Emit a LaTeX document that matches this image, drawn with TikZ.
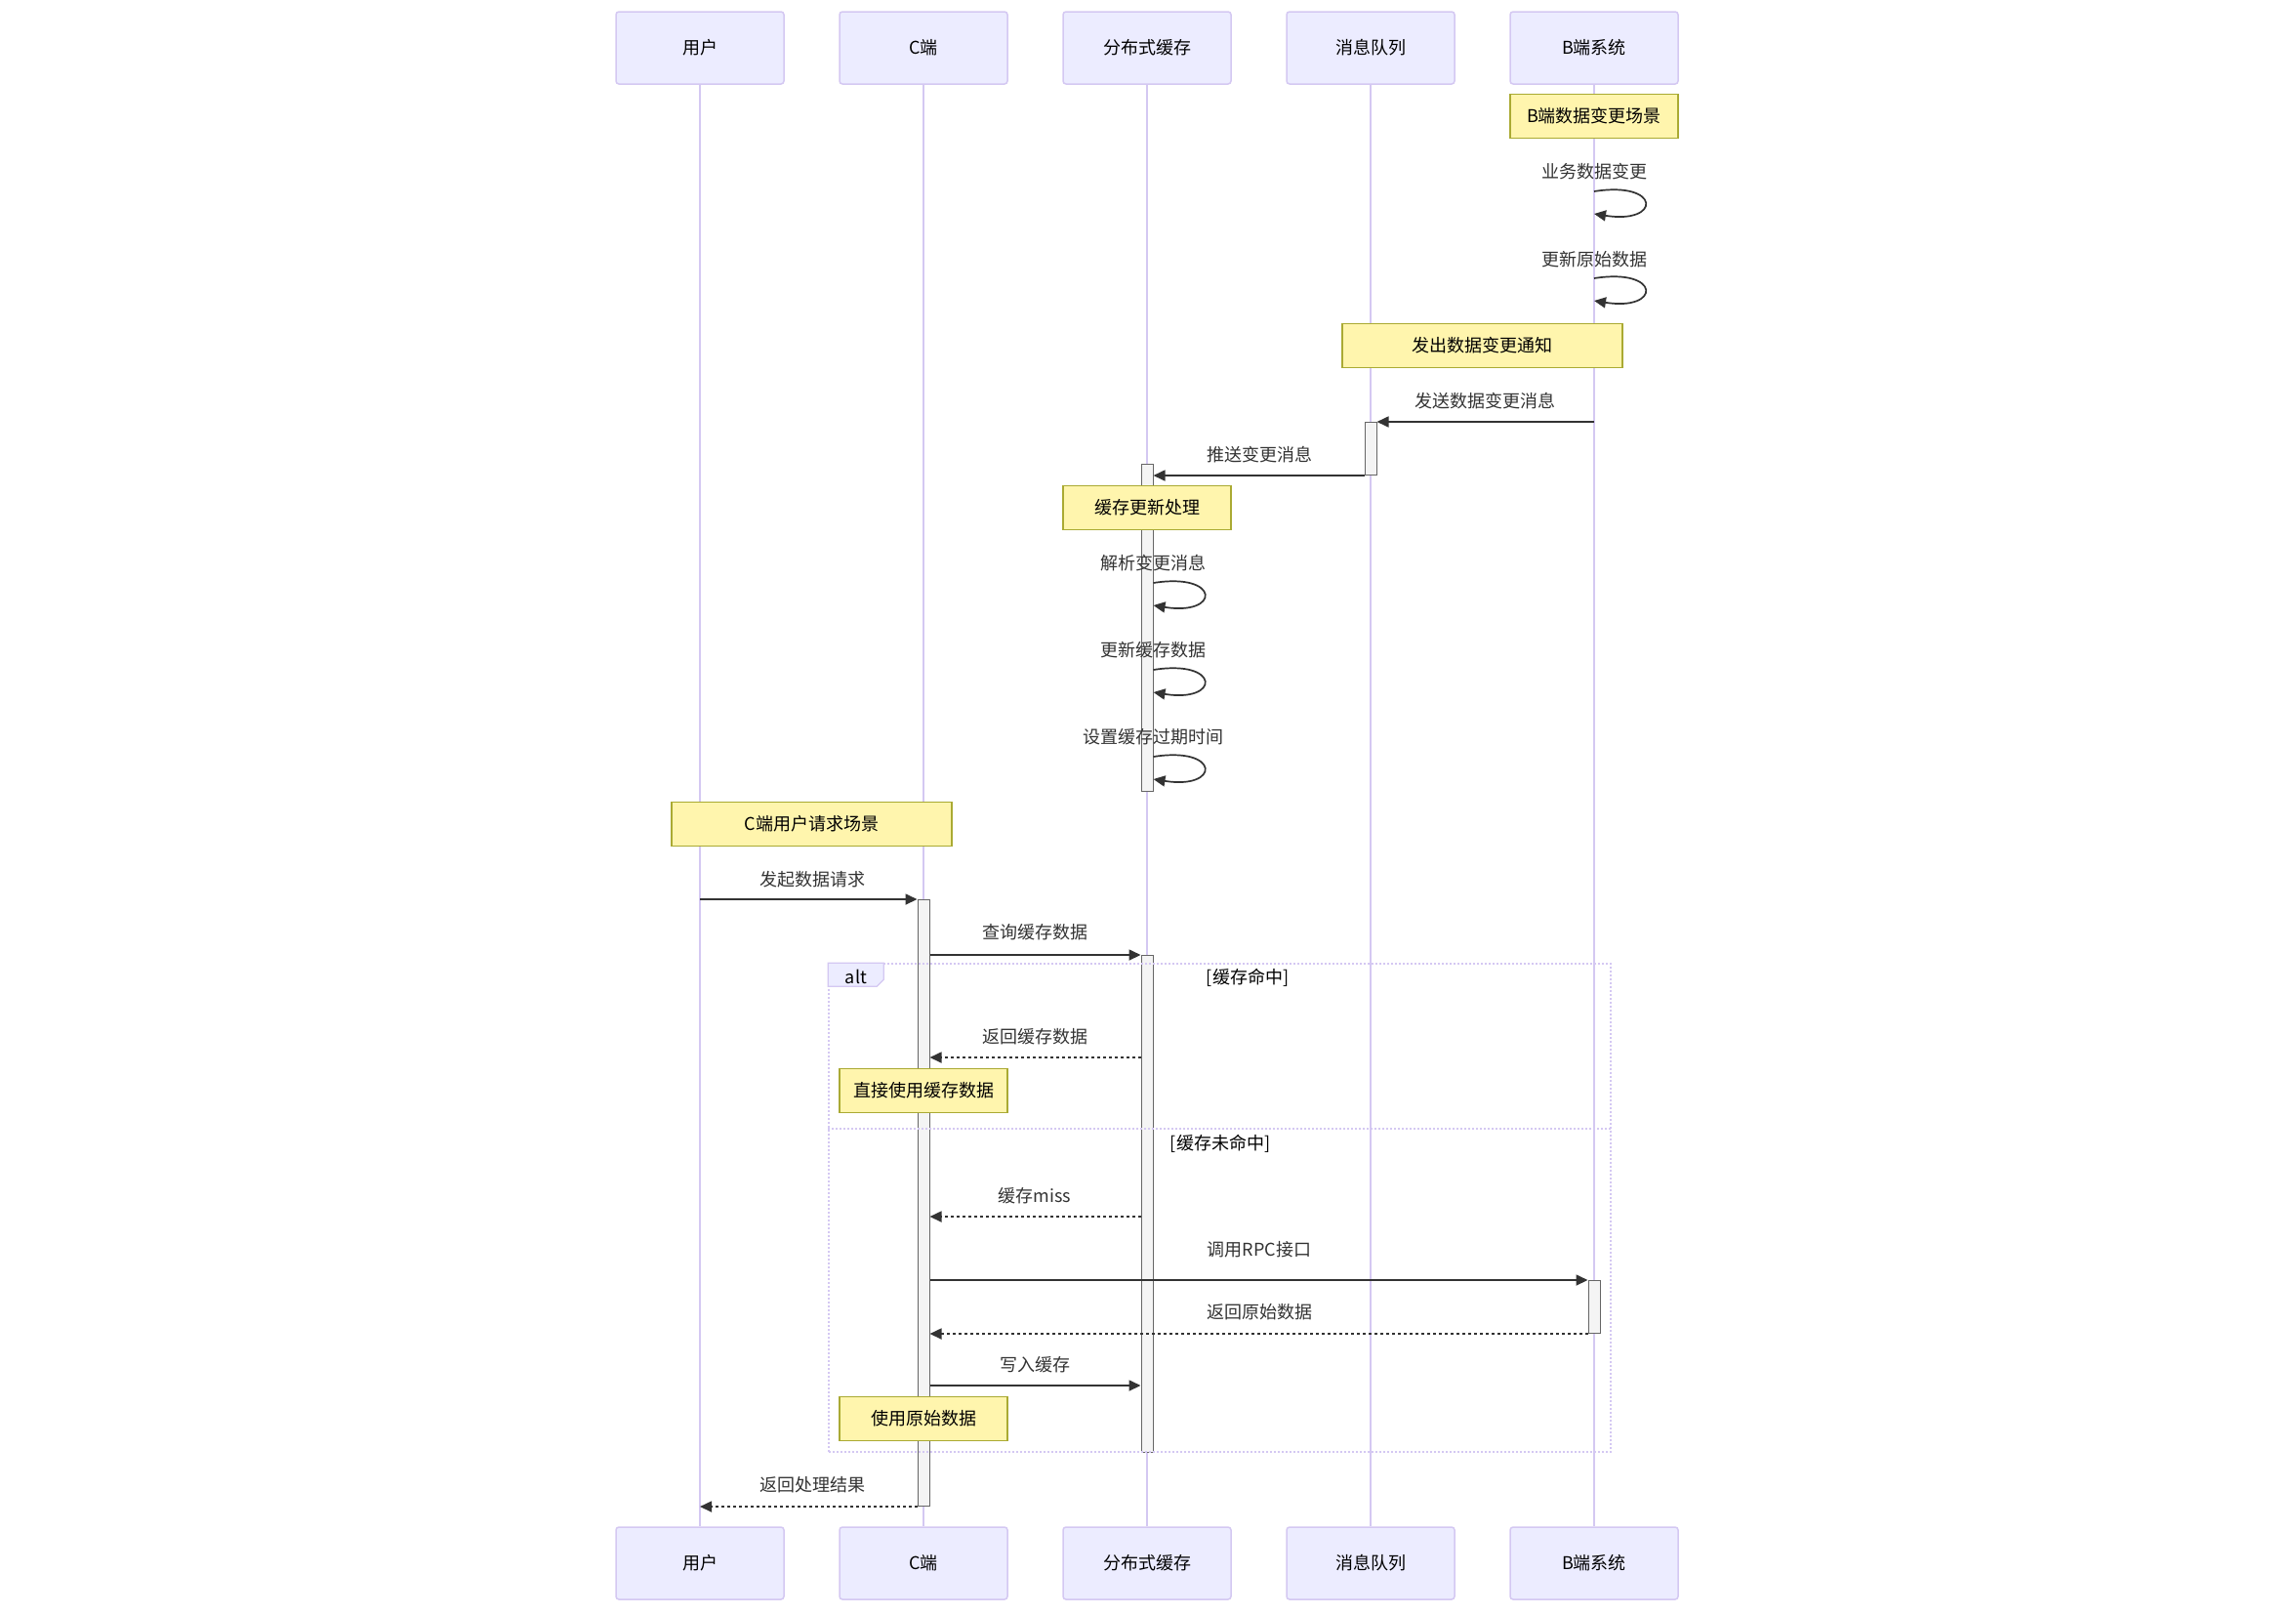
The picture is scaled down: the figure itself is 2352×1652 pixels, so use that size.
\documentclass[tikz,border=0pt]{standalone}
\usepackage{fontspec}
\setmainfont{Noto Sans CJK SC}
\usetikzlibrary{arrows.meta, positioning, calc}

\definecolor{actorfill}{HTML}{ECECFF}
\definecolor{actorline}{HTML}{D4C8F2}
\definecolor{notefill}{HTML}{FFF5AD}
\definecolor{noteline}{HTML}{AAAA33}
\definecolor{actfill}{HTML}{F4F4F4}
\definecolor{actline}{HTML}{666666}
\definecolor{msgline}{HTML}{333333}

\begin{document}
\begin{tikzpicture}[
    x=1pt, y=-1pt,
    >={Triangle[length=12pt, width=11pt]},
    % Styles
    actor/.style={rounded corners=3pt, draw=actorline, line width=1.5pt, fill=actorfill, minimum width=172pt, minimum height=74pt, font=\fontsize{18pt}{22pt}\selectfont, text=black},
    lifeline/.style={draw=actorline, line width=1.6pt},
    act/.style={draw=actline, fill=actfill, line width=1pt, minimum width=12pt, inner sep=0pt, anchor=north},
    note/.style={draw=noteline, fill=notefill, line width=1.2pt, minimum height=45pt, minimum width=172pt, font=\fontsize{18pt}{22pt}\selectfont, text=black},
    lbl/.style={font=\fontsize{18pt}{22pt}\selectfont, text=msgline, inner sep=1pt},
    sectlbl/.style={font=\fontsize{18pt}{22pt}\selectfont, text=black, inner sep=1pt},
    msg/.style={->, draw=msgline, line width=1.7pt},
    reply/.style={->, draw=msgline, line width=1.7pt, dash pattern=on 3pt off 3pt},
    frame/.style={draw=actorline, line width=1.6pt, dash pattern=on 2pt off 2pt},
]

\path[use as bounding box, fill=white] (0,0) rectangle (2352,1652);

% ── Actors (top) ──
\node[actor] (user) at (717,49) {用户};
\node[actor, right=55.5pt of user] (client) {C端};
\node[actor, right=55.5pt of client] (cache) {分布式缓存};
\node[actor, right=55.5pt of cache] (mq) {消息队列};
\node[actor, right=55.5pt of mq] (bsys) {B端系统};

% ── Actors (bottom) ──
\node[actor] (userB) at (717,1601) {用户};
\node[actor, right=55.5pt of userB] (clientB) {C端};
\node[actor, right=55.5pt of clientB] (cacheB) {分布式缓存};
\node[actor, right=55.5pt of cacheB] (mqB) {消息队列};
\node[actor, right=55.5pt of mqB] (bsysB) {B端系统};

% ── Lifelines ──
\draw[lifeline] (user) -- (userB);
\draw[lifeline] (client) -- (clientB);
\draw[lifeline] (cache) -- (cacheB);
\draw[lifeline] (mq) -- (mqB);
\draw[lifeline] (bsys) -- (bsysB);

\coordinate (mqbMid) at ($(mq)!0.5!(bsys)$);
\coordinate (ucMid) at ($(user)!0.5!(client)$);

% ── Activations ──
\node[act, minimum height=54pt] (mqAct) at (mq |- 0,432) {};
\node[act, minimum height=335pt] (cacheAct1) at (cache |- 0,475) {};
\node[act, minimum height=621pt] (cAct) at (client |- 0,921) {};
\node[act, minimum height=509pt] (cacheAct2) at (cache |- 0,978) {};
\node[act, minimum height=54pt] (bAct) at (bsys |- 0,1311) {};

% ── alt frame ──
\node[frame, minimum width=801pt, minimum height=500pt, inner sep=0pt] (altBox) at (1249.5,1237) {};
\draw[frame] (altBox.west |- 0,1156) -- (altBox.east |- 0,1156);
\draw[draw=actorline, line width=1.2pt, fill=actorfill] (altBox.north west) -- ++(57,0) -- ++(0,17) -- ++(-7,7) -- ++(-50,0) -- cycle;
\node[sectlbl] (altTag) at (877,1000) {alt};
\node[sectlbl] (hitLbl) at (1278,1001) {[缓存命中]};
\node[sectlbl] (missLbl) at (1250,1171) {[缓存未命中]};

% ── Notes ──
\node[note] (bNote) at (bsys |- 0,119) {B端数据变更场景};
\node[note, minimum width=287pt] (notifyNote) at (mqbMid |- 0,354) {发出数据变更通知};
\node[note] (cacheNote) at (cache |- 0,520) {缓存更新处理};
\node[note, minimum width=287pt] (reqNote) at (ucMid |- 0,844) {C端用户请求场景};
\node[note] (hitNote) at (client |- 0,1117) {直接使用缓存数据};
\node[note] (rawNote) at (client |- 0,1453) {使用原始数据};

% ── Phase 1: B端数据变更 ──
\node[lbl] (lblBiz) at (bsys |- 0,176) {业务数据变更};
\draw[msg] (bsys |- 0,196) .. controls +(69,-11) and +(69,11) .. ++(0,23);
\node[lbl] (lblRaw) at (bsys |- 0,266) {更新原始数据};
\draw[msg] (bsys |- 0,285) .. controls +(69,-11) and +(69,11) .. ++(0,23);

\node[lbl] (lblSend) at (1521,411) {发送数据变更消息};
\draw[msg] (bsys |- mqAct.north) -- (mqAct.north east);
\node[lbl] (lblPush) at (1290,466) {推送变更消息};
\draw[msg] (mqAct.south west) -- (cacheAct1.east |- mqAct.south);

% ── Phase 2: 缓存更新 ──
\node[lbl] (lblParse) at (1181,577) {解析变更消息};
\draw[msg] (cacheAct1.east |- 0,597) .. controls +(69,-11) and +(69,11) .. ++(0,23);
\node[lbl] (lblUpd) at (1181,666) {更新缓存数据};
\draw[msg] (cacheAct1.east |- 0,686) .. controls +(69,-11) and +(69,11) .. ++(0,23);
\node[lbl] (lblTtl) at (1181,755) {设置缓存过期时间};
\draw[msg] (cacheAct1.east |- 0,775) .. controls +(69,-11) and +(69,11) .. ++(0,23);

% ── Phase 3: C端请求 ──
\node[lbl] (lblReq) at (832,901) {发起数据请求};
\draw[msg] (user |- cAct.north) -- (cAct.north west);
\node[lbl] (lblQuery) at (1060,955) {查询缓存数据};
\draw[msg] (cAct.east |- cacheAct2.north) -- (cacheAct2.north west);

\node[lbl] (lblHit) at (1060,1062) {返回缓存数据};
\draw[reply] (cacheAct2.west |- 0,1083) -- (cAct.east |- 0,1083);

\node[lbl] (lblMiss) at (1060,1225) {缓存miss};
\draw[reply] (cacheAct2.west |- 0,1246) -- (cAct.east |- 0,1246);
\node[lbl] (lblRpc) at (1290,1280) {调用RPC接口};
\draw[msg] (cAct.east |- bAct.north) -- (bAct.north west);
\node[lbl] (lblBack) at (1290,1344) {返回原始数据};
\draw[reply] (bAct.south west) -- (cAct.east |- bAct.south);
\node[lbl] (lblWrite) at (1060,1398) {写入缓存};
\draw[msg] (cAct.east |- 0,1419) -- (cacheAct2.west |- 0,1419);

\node[lbl] (lblResult) at (832,1521) {返回处理结果};
\draw[reply] (cAct.south west) -- (user |- cAct.south);

\end{tikzpicture}
\end{document}
